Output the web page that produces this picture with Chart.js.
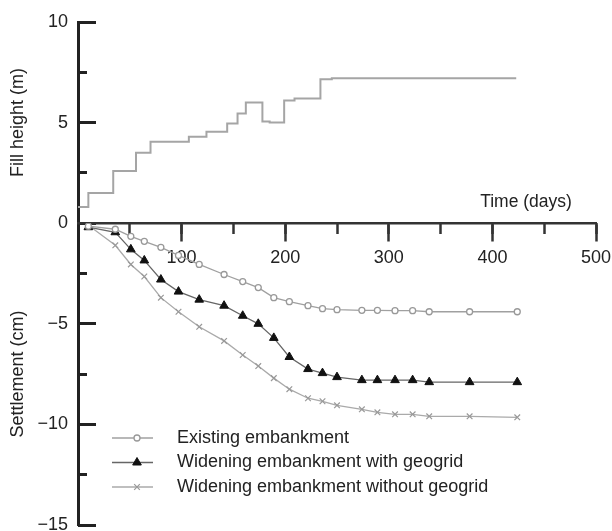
<!DOCTYPE html>
<html>
<head>
<meta charset="utf-8">
<script src="https://cdn.jsdelivr.net/npm/chart.js@4.4.1/dist/chart.umd.min.js"></script>
<style>
  html, body { margin: 0; padding: 0; background: #fff; }
  #wrap { width: 612px; height: 531px; }
</style>
</head>
<body>
<div id="wrap"><canvas id="chart"></canvas></div>
<script>
// Fill height (m), step line: height holds from each day until the next one
const fillDays = [0, 10, 34, 56, 70, 107, 124, 144, 154, 162, 178, 185, 199, 209, 234, 245, 423];
const fillHeight = [0.8, 1.5, 2.6, 3.5, 4.05, 4.3, 4.55, 4.95, 5.45, 6.0, 5.05, 5.0, 6.1, 6.2, 7.15, 7.2, 7.2];

// Settlement (cm)
const settleDays = [10, 36, 51, 64, 80, 97, 117, 141, 159, 174, 189, 204, 222, 236, 250, 274, 289, 306, 323, 339, 378, 424];
const existing = [-0.15, -0.3, -0.65, -0.9, -1.2, -1.6, -2.05, -2.55, -2.9, -3.2, -3.7, -3.9, -4.1, -4.25, -4.3, -4.33, -4.33, -4.35, -4.35, -4.4, -4.4, -4.4];
const withGeogrid = [-0.2, -0.45, -1.3, -1.85, -2.8, -3.4, -3.8, -4.1, -4.6, -5.0, -5.7, -6.65, -7.25, -7.45, -7.65, -7.8, -7.8, -7.8, -7.8, -7.9, -7.9, -7.9];
const withoutGeogrid = [-0.1, -1.1, -2.05, -2.65, -3.7, -4.4, -5.15, -5.85, -6.55, -7.1, -7.7, -8.25, -8.7, -8.85, -9.05, -9.25, -9.4, -9.5, -9.5, -9.6, -9.6, -9.65];

const seriesLabels = [
  'Existing embankment',
  'Widening embankment with geogrid',
  'Widening embankment without geogrid'
];

const FONT = '"Liberation Sans", Arial, sans-serif';
const TEXT = '#222';
Chart.defaults.font.family = FONT;
Chart.defaults.font.size = 18;
Chart.defaults.color = TEXT;

const toPoints = (xs, ys) => xs.map((x, i) => ({ x, y: ys[i] }));
const minus = v => (v < 0 ? '\u2212' + Math.abs(v) : String(v));
const noHeight = s => { s.height = 0; s.paddingLeft = 0; s.paddingRight = 0; };
// fixed axis width, and no extra room asked for the end labels
const leftAxisFit = s => { s.width = 78; s.paddingTop = 0; s.paddingBottom = 0; };
const noWidth = s => { s.width = 0; s.paddingTop = 0; s.paddingBottom = 0; };

// Legend drawn inside the plot, line with the marker on it
const inlineLegend = {
  id: 'inlineLegend',
  afterDraw(chart) {
    const { ctx, chartArea } = chart;
    const sets = chart.data.datasets.slice(1);
    const x0 = chartArea.left + 34;
    ctx.save();
    sets.forEach((ds, i) => {
      const y = 438 + i * 24.5;
      ctx.strokeStyle = ds.borderColor;
      ctx.lineWidth = ds.borderWidth;
      ctx.beginPath();
      ctx.moveTo(x0, y);
      ctx.lineTo(x0 + 41, y);
      ctx.stroke();

      ctx.fillStyle = ds.pointBackgroundColor;
      ctx.strokeStyle = ds.pointBorderColor;
      ctx.lineWidth = ds.pointBorderWidth;
      Chart.helpers.drawPoint(ctx, {
        pointStyle: ds.pointStyle,
        radius: ds.pointRadius,
        rotation: 0,
        borderWidth: ds.pointBorderWidth
      }, x0 + 25, y);

      ctx.fillStyle = TEXT;
      ctx.font = '18px ' + FONT;
      ctx.textAlign = 'left';
      ctx.textBaseline = 'middle';
      ctx.fillText(ds.label, x0 + 65, y);
    });

    // x axis title sits above the axis, on the right
    ctx.font = '17.5px ' + FONT;
    ctx.textAlign = 'center';
    ctx.fillText('Time (days)', 526, 202);
    ctx.restore();
  }
};

new Chart(document.getElementById('chart'), {
  type: 'line',
  data: {
    datasets: [
      {
        label: 'Fill height',
        data: toPoints(fillDays, fillHeight),
        yAxisID: 'yFill',
        stepped: 'before',
        borderColor: '#a5a5a5',
        borderWidth: 2,
        pointRadius: 0
      },
      {
        label: seriesLabels[0],
        data: toPoints(settleDays, existing),
        yAxisID: 'ySet',
        borderColor: '#a0a0a0',
        borderWidth: 1.3,
        pointStyle: 'circle',
        pointRadius: 3,
        pointBorderWidth: 1.3,
        pointBorderColor: '#999',
        pointBackgroundColor: '#fff'
      },
      {
        label: seriesLabels[1],
        data: toPoints(settleDays, withGeogrid),
        yAxisID: 'ySet',
        borderColor: '#666',
        borderWidth: 1.3,
        pointStyle: 'triangle',
        pointRadius: 5,
        pointBorderWidth: 1,
        pointBorderColor: '#111',
        pointBackgroundColor: '#111'
      },
      {
        label: seriesLabels[2],
        data: toPoints(settleDays, withoutGeogrid),
        yAxisID: 'ySet',
        borderColor: '#aaa',
        borderWidth: 1.3,
        pointStyle: 'crossRot',
        pointRadius: 4,
        pointBorderWidth: 1.2,
        pointBorderColor: '#999',
        pointBackgroundColor: '#999'
      }
    ]
  },
  options: {
    responsive: true,
    maintainAspectRatio: false,
    animation: false,
    layout: { padding: { left: 0, top: 22, right: 16, bottom: 5 } },
    plugins: {
      legend: { display: false },
      tooltip: { enabled: false }
    },
    elements: { line: { tension: 0 } },
    scales: {
      ySet: {
        type: 'linear',
        axis: 'y',
        position: 'left',
        stack: 'left',
        stackWeight: 15,
        min: -15,
        max: 0,
        afterFit: leftAxisFit,
        border: { display: true, width: 3, color: '#222' },
        grid: { display: false, drawTicks: false },
        ticks: { stepSize: 5, padding: 10, callback: v => minus(v) },
        title: { display: true, text: 'Settlement (cm)', font: { size: 18 }, padding: { top: 7, bottom: 0 } }
      },
      yFill: {
        type: 'linear',
        axis: 'y',
        position: 'left',
        stack: 'left',
        stackWeight: 10,
        min: 0,
        max: 10,
        afterFit: leftAxisFit,
        border: { display: true, width: 3, color: '#222' },
        grid: { display: false, drawTicks: false },
        ticks: { stepSize: 5, padding: 10, callback: v => (v === 0 ? '' : String(v)) },
        title: { display: true, text: 'Fill height (m)', font: { size: 18 }, padding: { top: 7, bottom: 0 } }
      },
      x: {
        type: 'linear',
        min: 0,
        max: 500,
        position: { ySet: 0 },
        afterFit: noHeight,
        border: { display: true, width: 2.5, color: '#333' },
        grid: { drawOnChartArea: false, drawTicks: true, tickLength: 17, tickWidth: 2.5, tickColor: '#333' },
        ticks: { stepSize: 100, padding: 7, callback: v => (v === 0 ? '' : String(v)) }
      },
      xMinor: {
        type: 'linear',
        axis: 'x',
        min: 0,
        max: 500,
        position: { ySet: 0 },
        afterFit: noHeight,
        border: { display: false },
        grid: { drawOnChartArea: false, drawTicks: true, tickLength: 11, tickWidth: 2.5, tickColor: '#333' },
        ticks: { stepSize: 50, display: false }
      },
      // inward ticks on the left axis: axes placed just right of it, ticks pointing back
      yMajorIn: {
        type: 'linear',
        axis: 'y',
        min: -15,
        max: 10,
        position: { x: 17.4 },
        afterFit: noWidth,
        border: { display: false },
        grid: { drawOnChartArea: false, drawTicks: true, tickLength: 18, tickWidth: 3, tickColor: '#222' },
        ticks: { stepSize: 5, display: false }
      },
      yMinorIn: {
        type: 'linear',
        axis: 'y',
        min: -15,
        max: 10,
        position: { x: 8.7 },
        afterFit: noWidth,
        border: { display: false },
        grid: { drawOnChartArea: false, drawTicks: true, tickLength: 9, tickWidth: 3, tickColor: '#222' },
        ticks: { stepSize: 2.5, display: false }
      }
    }
  },
  plugins: [inlineLegend]
});
</script>
</body>
</html>
